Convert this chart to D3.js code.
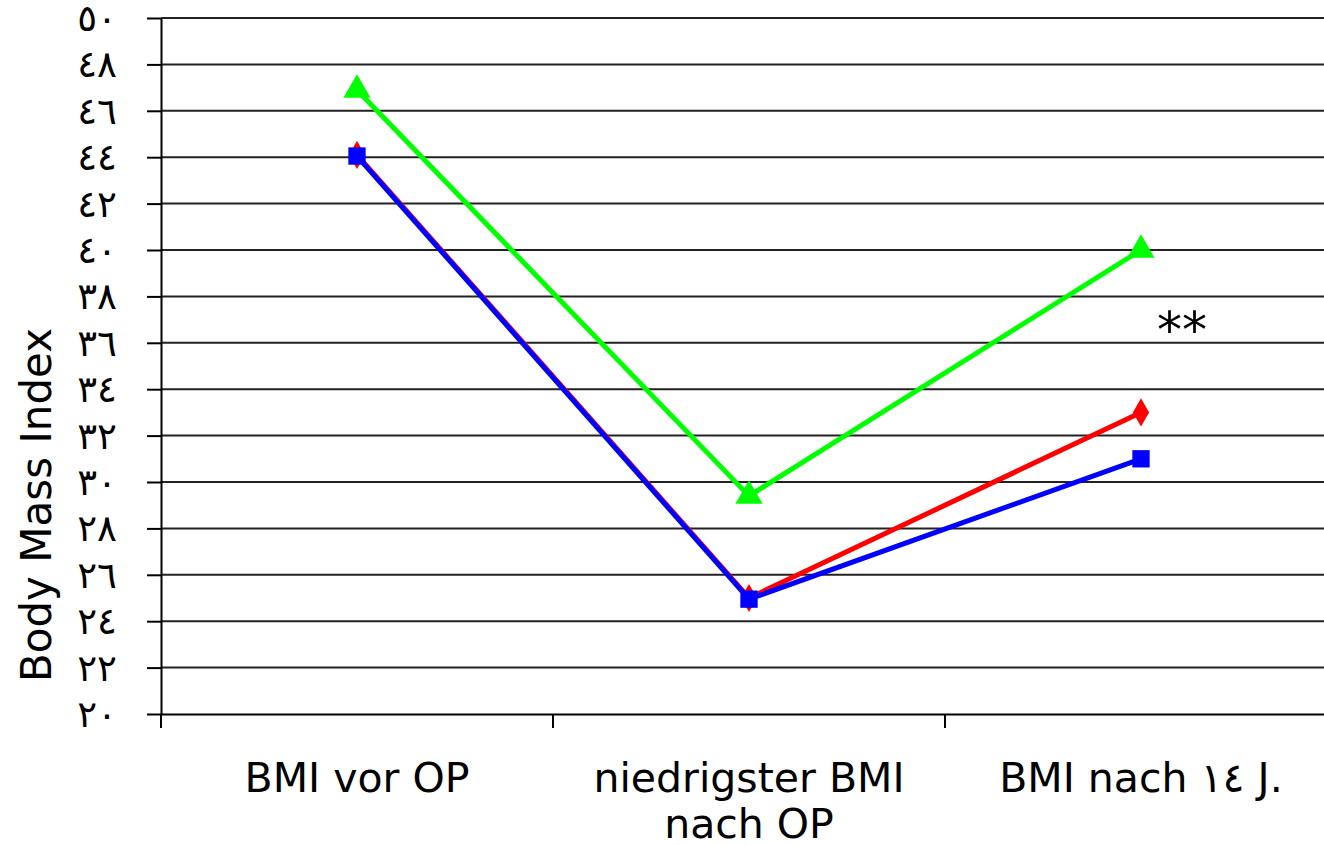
<!DOCTYPE html>
<html>
<head>
<meta charset="utf-8">
<script src="https://cdn.jsdelivr.net/npm/d3@7"></script>
<style>
  html, body { margin: 0; padding: 0; background: #fff; }
  svg { display: block; }
  text { font-family: "DejaVu Sans", Verdana, sans-serif; fill: #000; }
</style>
</head>
<body>
<svg id="chart" width="1324" height="845"></svg>
<script>
// ---- data ----
const categories = ["BMI vor OP", "niedrigster BMI\nnach OP", "BMI nach ١٤ J."];
const seriesGreen = [46.9, 29.4, 40.0];
const seriesRed   = [44.1, 25.0, 33.0];
const seriesBlue  = [44.05, 24.95, 31.0];
const yTickValues = [20, 22, 24, 26, 28, 30, 32, 34, 36, 38, 40, 42, 44, 46, 48, 50];
const yTickLabels = ["٢٠","٢٢","٢٤","٢٦","٢٨","٣٠","٣٢","٣٤","٣٦","٣٨","٤٠","٤٢","٤٤","٤٦","٤٨","٥٠"];
const yTitle = "Body Mass Index";
const annotation = "**";

// ---- layout ----
const W = 1324, H = 845;
const mLeft = 161, mTop = 18, mBottom = 714, bandW = 392;
const svg = d3.select("#chart");

const x = d3.scaleBand().domain(categories).range([mLeft, mLeft + bandW * categories.length]).padding(0);
const y = d3.scaleLinear().domain([20, 50]).range([mBottom, mTop]);

// gridlines
svg.append("g").selectAll("line").data(yTickValues.filter(v => v > 20)).join("line")
  .attr("x1", mLeft).attr("x2", W)
  .attr("y1", d => y(d)).attr("y2", d => y(d))
  .attr("stroke", "#222").attr("stroke-width", 2);

// y axis
const yAxis = d3.axisLeft(y).tickValues(yTickValues)
  .tickFormat(d => yTickLabels[yTickValues.indexOf(d)])
  .tickSize(14).tickSizeOuter(0).tickPadding(30);
const gy = svg.append("g").attr("transform", `translate(${mLeft},0)`).call(yAxis);
gy.select(".domain").attr("stroke", "#000").attr("stroke-width", 2);
gy.selectAll(".tick line").attr("stroke", "#000").attr("stroke-width", 2);
gy.selectAll(".tick text").attr("font-size", 37).attr("font-family", "DejaVu Sans")
  .attr("fill", "#000").attr("dy", "0.34em").attr("letter-spacing", 5);

// x axis
const xAxis = d3.axisBottom(x).tickValues([]).tickSizeOuter(0);
const gx = svg.append("g").attr("transform", `translate(0,${mBottom})`).call(xAxis);
gx.select(".domain").attr("stroke", "#000").attr("stroke-width", 2);
const boundaries = categories.map(c => x(c)).concat([x(categories[categories.length-1]) + x.bandwidth()]);
gx.selectAll("line.bt").data(boundaries).join("line").attr("class", "bt")
  .attr("x1", d => d).attr("x2", d => d).attr("y1", 0).attr("y2", 14)
  .attr("stroke", "#000").attr("stroke-width", 2);
categories.forEach(c => {
  const lines = c.split("\n");
  const t = svg.append("text").attr("text-anchor", "middle").attr("font-size", 41)
    .attr("x", x(c) + x.bandwidth() / 2).attr("y", 792);
  lines.forEach((ln, i) => {
    t.append("tspan").attr("x", x(c) + x.bandwidth() / 2).attr("dy", i === 0 ? 0 : 46).text(ln);
  });
});

// y title
svg.append("text").attr("text-anchor", "middle").attr("font-size", 42)
  .attr("transform", `translate(51,505) rotate(-90)`).text(yTitle);

// series
const cx = i => x(categories[i]) + x.bandwidth() / 2;
const line = d3.line().x((d, i) => cx(i)).y(d => y(d));
const series = [
  { vals: seriesGreen, color: "#00ff00", sym: d3.symbolTriangle, size: 320 },
  { vals: seriesRed,   color: "#ff0000", sym: d3.symbolDiamond,  size: 230 },
  { vals: seriesBlue,  color: "#0000ff", sym: d3.symbolSquare,   size: 300 }
];
series.forEach(s => {
  svg.append("path").datum(s.vals).attr("d", line)
    .attr("fill", "none").attr("stroke", s.color).attr("stroke-width", 5);
  svg.append("g").selectAll("path").data(s.vals).join("path")
    .attr("transform", (d, i) => `translate(${cx(i)},${y(d)})`)
    .attr("d", d3.symbol().type(s.sym).size(s.size))
    .attr("fill", s.color);
});

// annotation
svg.append("text").attr("text-anchor", "middle").attr("font-size", 50)
  .attr("x", 1182).attr("y", 347).text(annotation);
</script>
</body>
</html>
